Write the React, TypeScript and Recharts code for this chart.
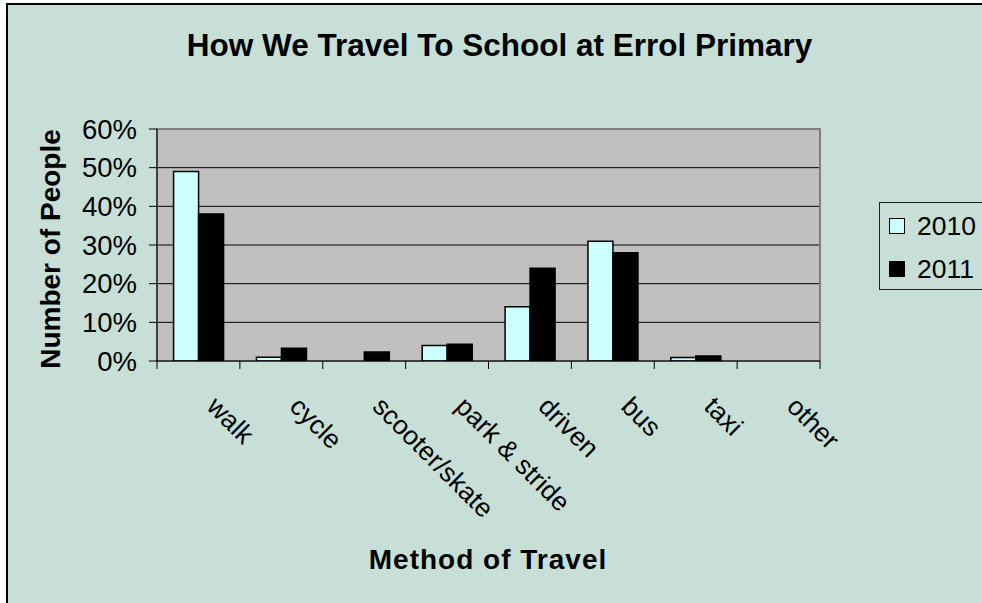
import React from 'react';
import { BarChart, Bar, XAxis, YAxis, CartesianGrid, ReferenceArea } from 'recharts';

const categories = ['walk', 'cycle', 'scooter/skate', 'park & stride', 'driven', 'bus', 'taxi', 'other'];
const series2010 = [0.49, 0.01, 0, 0.04, 0.14, 0.31, 0.009, 0];
const series2011 = [0.38, 0.033, 0.023, 0.043, 0.24, 0.28, 0.013, 0];
const seriesNames = ['2010', '2011'];
const seriesColors = ['#ccffff', '#000000'];
const yTicks = [0, 0.1, 0.2, 0.3, 0.4, 0.5, 0.6];
const title = 'How We Travel To School at Errol Primary';
const xTitle = 'Method of Travel';
const yTitle = 'Number of People';

const data = categories.map((c, i) => ({ name: c, y2010: series2010[i], y2011: series2011[i] }));

const FONT = '"Liberation Sans", Arial, sans-serif';

const XTick = (props: any) => {
  const { x, y, payload, width, visibleTicksCount, index } = props;
  const half = payload && payload.offset > 2 ? payload.offset : width / visibleTicksCount / 2;
  const last = index === visibleTicksCount - 1;
  return (
    <g>
      <line x1={x - half} x2={x - half} y1={y} y2={y + 8} stroke="#000" strokeWidth={1} />
      {last && <line x1={x + half} x2={x + half} y1={y} y2={y + 8} stroke="#000" strokeWidth={1} />}
      <text
        transform={`translate(${x + 7},${y + 47}) rotate(45)`}
        textAnchor="start"
        fontSize={26.5}
        fontFamily={FONT}
        fill="#000"
      >
        {payload.value}
      </text>
    </g>
  );
};

export default function App() {
  return (
    <div style={{ position: 'fixed', left: 0, top: 0, width: 982, height: 603, overflow: 'hidden', background: '#fff' }}>
      <div
        style={{
          position: 'absolute',
          left: 6,
          top: 3,
          width: 1000,
          height: 640,
          background: '#c8dfd7',
          borderLeft: '2px solid #000',
          borderTop: '2px solid #000',
        }}
      />
      <div style={{ position: 'absolute', left: 0, top: 0 }}>
        <BarChart
          width={982}
          height={603}
          data={data}
          margin={{ top: 129, right: 162, bottom: 202, left: 57 }}
          barCategoryGap="20%"
          barGap={0}
        >
          <CartesianGrid vertical={false} stroke="#000" fill="#c0c0c0" fillOpacity={1} />
          <ReferenceArea y1={0} y2={0.6} fill="none" stroke="#808080" strokeWidth={2} ifOverflow="visible" />
          <XAxis
            dataKey="name"
            interval={0}
            tick={<XTick />}
            tickLine={false}
            tickSize={0}
            tickMargin={0}
            axisLine={{ stroke: '#000', strokeWidth: 1 }}
            height={40}
          />
          <YAxis
            domain={[0, 0.6]}
            ticks={yTicks}
            tickFormatter={(v: number) => `${Math.round(v * 100)}%`}
            tick={{ fontSize: 27.5, fill: '#000', fontFamily: FONT }}
            tickSize={8}
            tickMargin={12}
            tickLine={{ stroke: '#000' }}
            axisLine={{ stroke: '#000' }}
            width={100}
            allowDataOverflow
          />
          <Bar dataKey="y2010" name={seriesNames[0]} fill={seriesColors[0]} stroke="#000" strokeWidth={1.5} isAnimationActive={false} />
          <Bar dataKey="y2011" name={seriesNames[1]} fill={seriesColors[1]} stroke="#000" strokeWidth={1.5} isAnimationActive={false} />
        </BarChart>
      </div>
      <svg width={982} height={603} style={{ position: 'absolute', left: 0, top: 0, pointerEvents: 'none' }}>
        <text x={499.5} y={56} textAnchor="middle" fontSize={31.5} fontWeight="bold" fontFamily={FONT} fill="#000">
          {title}
        </text>
        <text x={488} y={569} textAnchor="middle" fontSize={28} fontWeight="bold" fontFamily={FONT} letterSpacing={1} fill="#000">
          {xTitle}
        </text>
        <text
          transform="translate(60,249) rotate(-90)"
          textAnchor="middle"
          fontSize={28}
          fontWeight="bold"
          fontFamily={FONT}
          fill="#000"
        >
          {yTitle}
        </text>
        <rect x={879.5} y={202.5} width={130} height={87} fill="none" stroke="#222" strokeWidth={1} />
        {seriesNames.map((n, i) => (
          <g key={n}>
            <rect x={889.5} y={218.5 + i * 43} width={15} height={15} fill={seriesColors[i]} stroke="#000" strokeWidth={1} />
            <text x={917} y={235 + i * 43} fontSize={26.5} fontFamily={FONT} fill="#000">
              {n}
            </text>
          </g>
        ))}
      </svg>
    </div>
  );
}
